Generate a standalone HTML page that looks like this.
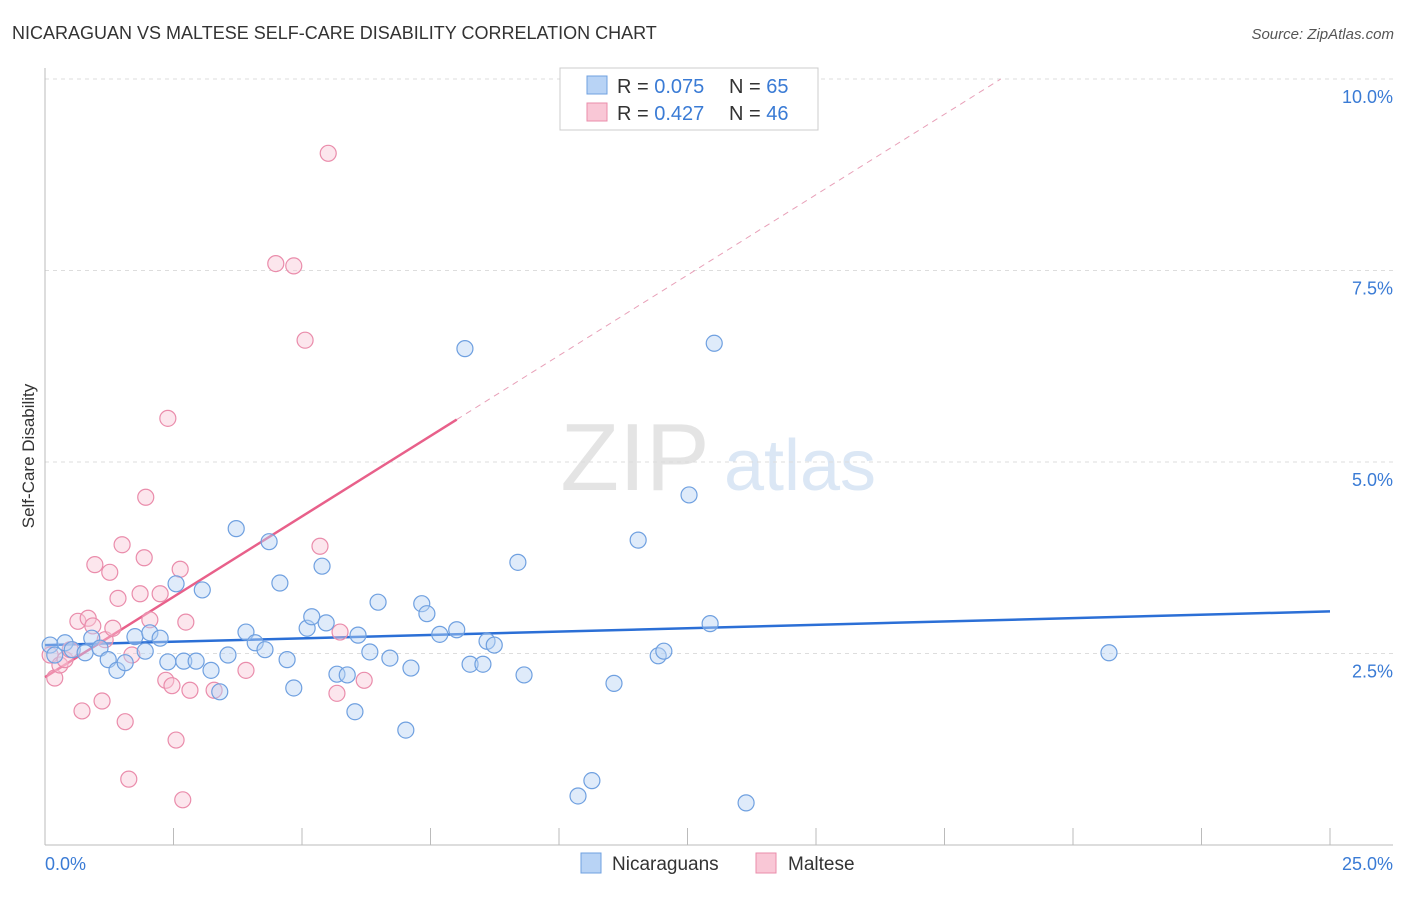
<!DOCTYPE html>
<html><head><meta charset="utf-8"><style>
body{margin:0;background:#fff;font-family:"Liberation Sans",sans-serif;}
svg text{font-family:"Liberation Sans",sans-serif;}
</style></head><body>
<svg id="c" width="1406" height="892" xmlns="http://www.w3.org/2000/svg">
<text x="12" y="39" font-size="18" fill="#333">NICARAGUAN VS MALTESE SELF-CARE DISABILITY CORRELATION CHART</text>
<text x="1394" y="39" font-size="15" fill="#555" text-anchor="end" font-style="italic">Source: ZipAtlas.com</text>
<text x="635" y="490" font-size="96" fill="#e4e4e4" font-family="Liberation Serif" text-anchor="middle">ZIP</text>
<text x="800" y="490" font-size="72" fill="#dbe7f5" text-anchor="middle">atlas</text>
<text transform="translate(34,456) rotate(-90)" font-size="17" fill="#333" text-anchor="middle">Self-Care Disability</text>
<g id="grid"></g><g id="axes"></g><g id="lines"></g><g id="pts"></g>
<g>
<rect x="560" y="68" width="258" height="62" fill="#fff" stroke="#ccc"/>
<rect x="587" y="76" width="20" height="18" fill="#b8d3f5" stroke="#6fa0e0"/>
<rect x="587" y="103" width="20" height="18" fill="#f9c7d6" stroke="#ea8cab"/>
<text x="617" y="93" font-size="20" fill="#333">R = <tspan fill="#3a7bd5">0.075</tspan></text>
<text x="729" y="93" font-size="20" fill="#333">N = <tspan fill="#3a7bd5">65</tspan></text>
<text x="617" y="120" font-size="20" fill="#333">R = <tspan fill="#3a7bd5">0.427</tspan></text>
<text x="729" y="120" font-size="20" fill="#333">N = <tspan fill="#3a7bd5">46</tspan></text>
</g>
<g>
<rect x="581" y="853" width="20" height="20" fill="#b8d3f5" stroke="#6fa0e0"/>
<text x="612" y="870" font-size="19" fill="#333">Nicaraguans</text>
<rect x="756" y="853" width="20" height="20" fill="#f9c7d6" stroke="#ea8cab"/>
<text x="788" y="870" font-size="19" fill="#333">Maltese</text>
</g>
</svg>
<script>
const yTicks=[2.5,5.0,7.5,10.0];
const yTickLabels=["2.5%","5.0%","7.5%","10.0%"];
const xEndLabels=["0.0%","25.0%"];
const blueX=[0.10,0.19,0.39,0.53,0.78,0.91,1.07,1.23,1.40,1.56,1.75,1.95,2.04,2.24,2.39,2.55,2.70,2.94,3.06,3.23,3.40,3.56,3.72,3.91,4.09,4.28,4.36,4.57,4.71,4.84,5.10,5.19,5.39,5.47,5.68,5.88,6.03,6.09,6.32,6.48,6.71,7.02,7.12,7.33,7.43,7.68,8.01,8.17,8.27,8.52,8.60,8.74,9.20,9.32,10.37,10.64,11.07,11.54,11.93,12.04,12.53,12.94,13.02,13.64,20.70];
const blueY=[2.61,2.48,2.64,2.55,2.51,2.70,2.57,2.42,2.28,2.38,2.72,2.53,2.77,2.70,2.39,3.41,2.40,2.40,3.33,2.28,2.00,2.48,4.13,2.78,2.64,2.55,3.96,3.42,2.42,2.05,2.83,2.98,3.64,2.90,2.23,2.22,1.74,2.74,2.52,3.17,2.44,1.50,2.31,3.15,3.02,2.75,2.81,6.48,2.36,2.36,2.66,2.61,3.69,2.22,0.64,0.84,2.11,3.98,2.47,2.53,4.57,2.89,6.55,0.55,2.51];
const pinkX=[0.10,0.19,0.29,0.39,0.49,0.64,0.72,0.84,0.93,0.97,1.11,1.17,1.26,1.32,1.42,1.50,1.56,1.63,1.69,1.85,1.93,1.96,2.04,2.24,2.35,2.39,2.47,2.55,2.63,2.68,2.74,2.82,3.29,3.91,4.49,4.84,5.06,5.35,5.51,5.68,5.74,6.21];
const pinkY=[2.48,2.18,2.35,2.42,2.55,2.92,1.75,2.96,2.86,3.66,1.88,2.68,3.56,2.83,3.22,3.92,1.61,0.86,2.48,3.28,3.75,4.54,2.94,3.28,2.15,5.57,2.08,1.37,3.60,0.59,2.91,2.02,2.02,2.28,7.59,7.56,6.59,3.90,9.03,1.98,2.78,2.15];
const blueFit=[2.61,3.05];
const pinkFit=[2.19,0.42];
const NS="http://www.w3.org/2000/svg";
const X=v=>45+v/25*1285, Y=v=>845-v/10*766;
function mk(t,a,p){const e=document.createElementNS(NS,t);for(const k in a)e.setAttribute(k,a[k]);p.appendChild(e);return e;}
const g=document.getElementById('grid'),ax=document.getElementById('axes'),ln=document.getElementById('lines'),pt=document.getElementById('pts');
yTicks.forEach((t,i)=>{
 const l=mk('line',{x1:45,x2:1393,y1:Y(t),y2:Y(t),stroke:'#ddd','stroke-dasharray':'4,4'},g);
 
 const tx=mk('text',{x:1393,y:Y(t)+24,'font-size':18,fill:'#3a7bd5','text-anchor':'end'},ax);tx.textContent=yTickLabels[i];
 
});
const b=mk('line',{x1:45,x2:1393,y1:845,y2:845,stroke:'#bbb'},ax);
const la=mk('line',{x1:45,x2:45,y1:68,y2:845,stroke:'#bbb'},ax);
for(let i=1;i<=10;i++){const t=mk('line',{x1:X(i*2.5),x2:X(i*2.5),y1:828,y2:845,stroke:'#bbb'},ax);}
[[0,'start',45],[25,'end',1393]].forEach((d,i)=>{const t=mk('text',{x:d[2],y:870,'font-size':18,fill:'#3a7bd5','text-anchor':d[1]},ax);t.textContent=xEndLabels[i];});
function dots(xs,ys,fill,stroke,name){xs.forEach((x,i)=>{const c=mk('circle',{cx:X(x),cy:Y(ys[i]),r:8,fill:fill,'fill-opacity':0.45,stroke:stroke,'stroke-width':1.2},pt);
 });}
dots(pinkX,pinkY,'#f9c7d6','#ea8cab','maltese-point');
dots(blueX,blueY,'#b8d3f5','#6fa0e0','nicaraguan-point');
const bl=mk('line',{x1:X(0),y1:Y(blueFit[0]),x2:X(25),y2:Y(blueFit[1]),stroke:'#2b6fd6','stroke-width':2.5},ln);

const pe=8.01,pEnd=(10-pinkFit[0])/pinkFit[1];
const pd=mk('line',{x1:X(pe),y1:Y(pinkFit[0]+pinkFit[1]*pe),x2:X(pEnd),y2:Y(10),stroke:'#e8a0b8','stroke-width':1,'stroke-dasharray':'6,5'},ln);

const pl=mk('line',{x1:X(0),y1:Y(pinkFit[0]),x2:X(pe),y2:Y(pinkFit[0]+pinkFit[1]*pe),stroke:'#e8608a','stroke-width':2.5},ln);

</script>
</body></html>
